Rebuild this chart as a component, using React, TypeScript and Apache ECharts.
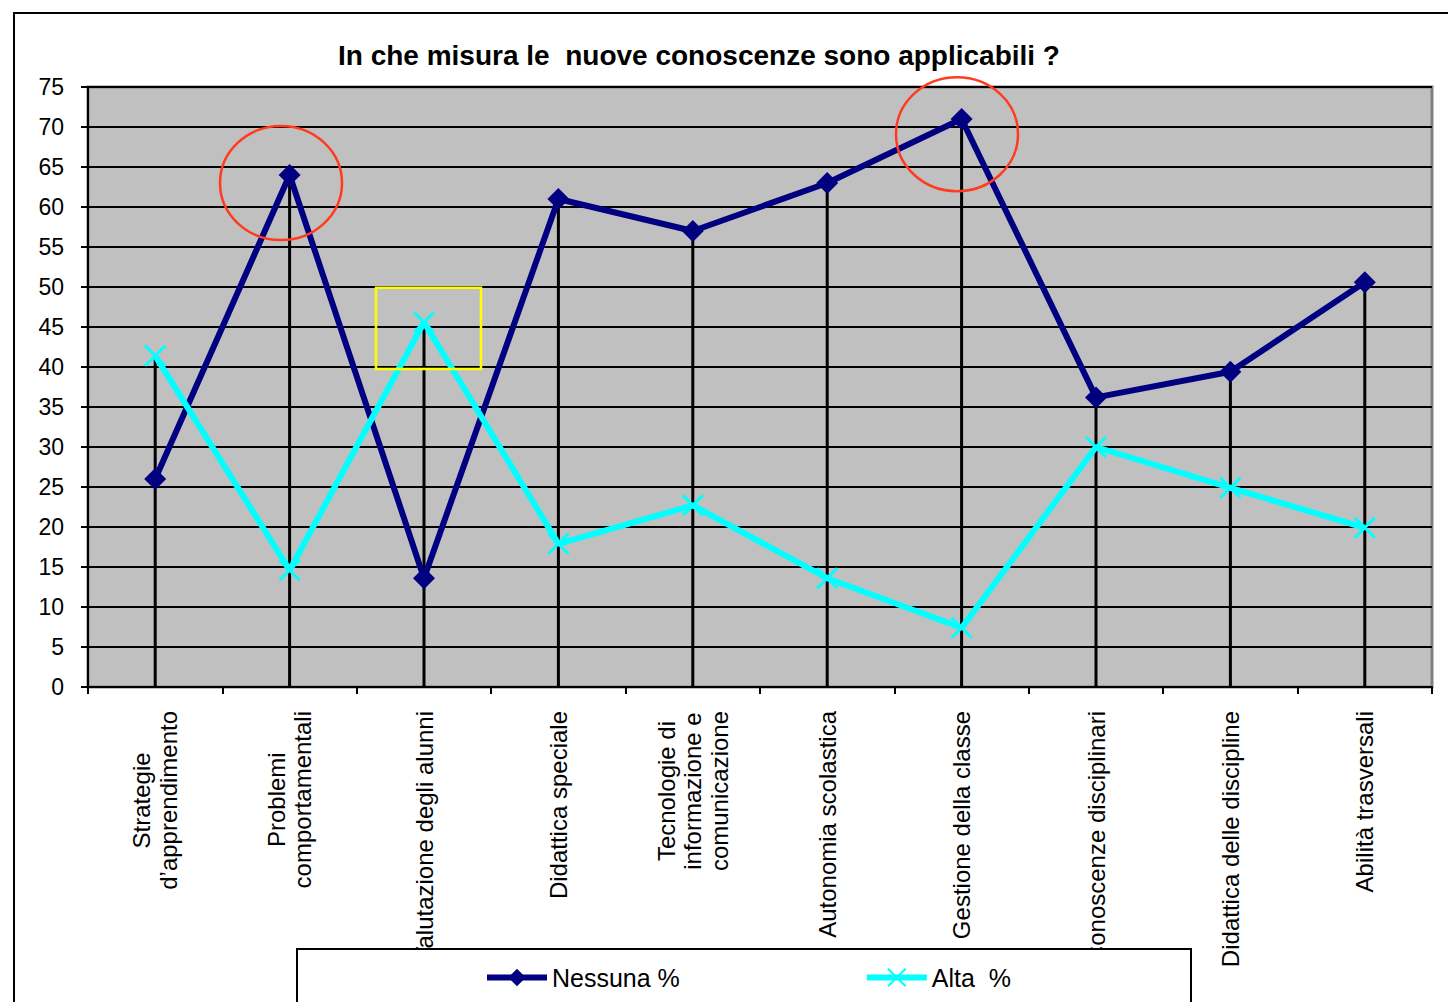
import React, { useEffect, useRef } from "react";
import * as echarts from "echarts";

const titleText = "In che misura le  nuove conoscenze sono applicabili ?";
const categories = [
  "Strategie\nd’apprendimento",
  "Problemi\ncomportamentali",
  "Valutazione degli alunni",
  "Didattica speciale",
  "Tecnologie di\ninformazione e\ncomunicazione",
  "Autonomia scolastica",
  "Gestione della classe",
  "Conoscenze disciplinari",
  "Didattica delle discipline",
  "Abilità trasversali",
];
const seriesNames = ["Nessuna %", "Alta  %"];
const nessuna = [26, 64, 13.6, 61, 57, 63, 71, 36.2, 39.4, 50.6];
const alta = [41.4, 14.6, 45.6, 17.9, 22.7, 13.6, 7.4, 30, 24.9, 19.9];
const yMin = 0;
const yMax = 75;
const yInterval = 5;

// drop lines reach the higher of the two points in each category
const dropTops = nessuna.map((v, i) => Math.max(v, alta[i]));

// annotations in data terms: [categoryIndex, value]
const circleMarks = [
  { cat: 1, value: 63, dx: -8.6, rx: 61, ry: 57 },
  { cat: 6, value: 69.1, dx: -4.6, rx: 61, ry: 57 },
];
const boxMark = { cat: 2, top: 49.9, bottom: 39.75, leftPx: -48, rightPx: 57 };

const FONT = "'Liberation Sans', Arial, sans-serif";

export default function App() {
  const ref = useRef<HTMLDivElement>(null);

  useEffect(() => {
    document.body.style.margin = "0";
    const el = ref.current;
    if (!el) return;
    const chart = echarts.init(el, null, { renderer: "svg" });
    chart.setOption({
      animation: false,
      backgroundColor: "#ffffff",
      title: {
        text: titleText,
        left: 338,
        top: 41,
        padding: 0,
        textStyle: { fontFamily: FONT, fontSize: 28, fontWeight: "bold", color: "#000" },
      },
      legend: {
        data: seriesNames,
        left: 484,
        top: 965,
        padding: 0,
        itemWidth: 60,
        itemHeight: 22,
        itemGap: 184,
        z: 60,
        lineStyle: { width: 6 },
        textStyle: { fontFamily: FONT, fontSize: 25, color: "#000" },
      },
      grid: {
        left: 88,
        right: 16,
        top: 87,
        bottom: 315,
        show: true,
        backgroundColor: "#C0C0C0",
        borderColor: "#808080",
        borderWidth: 3,
      },
      xAxis: {
        type: "category",
        data: categories,
        boundaryGap: true,
        axisLine: { show: true, lineStyle: { color: "#000", width: 2 } },
        axisTick: { show: true, length: 7, interval: 0, lineStyle: { color: "#000", width: 2 } },
        axisLabel: {
          interval: 0,
          rotate: 90,
          margin: 24,
          color: "#000",
          fontFamily: FONT,
          fontSize: 24,
          lineHeight: 26.5,
          formatter: (v: string) => v.split("\n").map((l) => `{c|${l}}`).join("\n"),
          rich: {
            c: { align: "center", fontFamily: FONT, fontSize: 24, lineHeight: 26.5, color: "#000" },
          },
        },
        splitLine: { show: false },
      },
      yAxis: {
        type: "value",
        min: yMin,
        max: yMax,
        interval: yInterval,
        axisLine: { show: true, lineStyle: { color: "#000", width: 2 } },
        axisTick: { show: true, length: 7, lineStyle: { color: "#000", width: 2 } },
        axisLabel: { margin: 24, color: "#000", fontFamily: FONT, fontSize: 23 },
        splitLine: { show: true, lineStyle: { color: "#000", width: 2 } },
      },
      series: [
        {
          name: "drop",
          type: "bar",
          data: dropTops,
          barWidth: 3,
          itemStyle: { color: "#000" },
          silent: true,
          z: 1,
        },
        {
          name: seriesNames[0],
          type: "line",
          data: nessuna,
          symbol: "diamond",
          symbolSize: 22,
          lineStyle: { color: "#000080", width: 6 },
          itemStyle: { color: "#000080" },
          z: 3,
        },
        {
          name: seriesNames[1],
          type: "line",
          data: alta,
          symbol: "path://M0,0L10,10M10,0L0,10",
          symbolSize: 20,
          lineStyle: { color: "#00FFFF", width: 6 },
          itemStyle: { color: "#00FFFF", borderColor: "#00FFFF", borderWidth: 3 },
          z: 4,
        },
      ],
    });

    const px = (c: number, v: number) => chart.convertToPixel({ gridIndex: 0 }, [c, v]) as number[];
    const elements: any[] = [
      {
        type: "rect",
        shape: { x: 14, y: 13, width: 1500, height: 1100 },
        style: { fill: "none", stroke: "#000", lineWidth: 2 },
        z: 0,
        silent: true,
      },
      {
        type: "rect",
        shape: { x: 297, y: 949, width: 894, height: 80 },
        style: { fill: "#fff", stroke: "#000", lineWidth: 2 },
        z: 50,
        silent: true,
      },
    ];
    circleMarks.forEach((m) => {
      const p = px(m.cat, m.value);
      elements.push({
        type: "ellipse",
        shape: { cx: p[0] + m.dx, cy: p[1], rx: m.rx, ry: m.ry },
        style: { fill: "none", stroke: "#FF3B1F", lineWidth: 2.5 },
        z: 20,
        silent: true,
      });
    });
    const pTop = px(boxMark.cat, boxMark.top);
    const pBot = px(boxMark.cat, boxMark.bottom);
    elements.push({
      type: "rect",
      shape: {
        x: pTop[0] + boxMark.leftPx,
        y: pTop[1],
        width: boxMark.rightPx - boxMark.leftPx,
        height: pBot[1] - pTop[1],
      },
      style: { fill: "none", stroke: "#FFFF00", lineWidth: 2.5 },
      z: 20,
      silent: true,
    });
    chart.setOption({ graphic: { elements } });

    return () => chart.dispose();
  }, []);

  return <div ref={ref} style={{ width: 1448, height: 1002 }} />;
}
